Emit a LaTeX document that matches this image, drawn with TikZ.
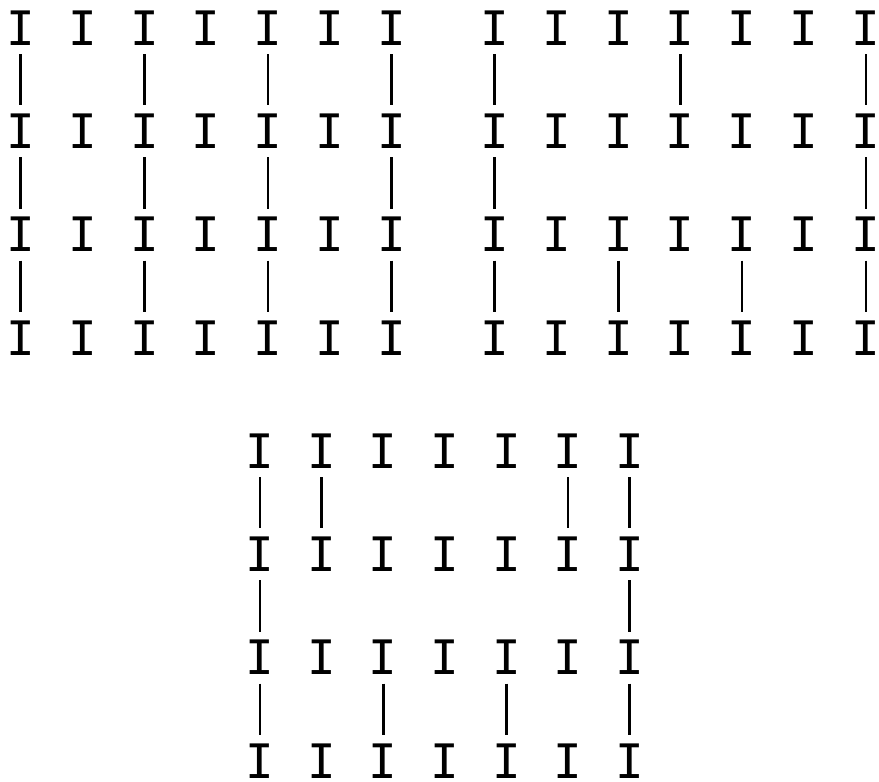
\documentclass[tikz,border=0pt]{standalone}
\usepackage{fontspec}
\newfontfamily\beamfont{DejaVu Sans Mono}
\usetikzlibrary{positioning}

\begin{document}
\begin{tikzpicture}[
    x=1pt, y=-1pt,
    beam/.style={inner sep=0pt, font=\beamfont\fontsize{47.5}{47.5}\selectfont, text height=34.6pt, text depth=0pt},
    bar/.style={line width=2.6pt, shorten >=8.5pt, shorten <=8.5pt},
  ]
  \useasboundingbox (0,0) rectangle (879,782);

  % three blocks of beams
  \foreach \r in {1,...,4}
    \foreach \c in {1,...,7} {
      \node[beam] (a\r\c) at ({20.7+61.8*(\c-1)},{28+103.3*(\r-1)}) {I};
      \node[beam] (b\r\c) at ({494.5+61.9*(\c-1)},{28+103.3*(\r-1)}) {I};
      \node[beam] (c\r\c) at ({260+61.6*(\c-1)},{451+103.3*(\r-1)}) {I};
    }

  % left block
  \foreach \r/\s in {1/2, 2/3, 3/4}
    \foreach \c in {1,3,5,7}
      \draw[bar] (a\r\c) -- (a\s\c);

  % right block
  \foreach \c in {1,4,7} \draw[bar] (b1\c) -- (b2\c);
  \foreach \c in {1,7} \draw[bar] (b2\c) -- (b3\c);
  \foreach \c in {1,3,5,7} \draw[bar] (b3\c) -- (b4\c);

  % lower block
  \foreach \c in {1,2,6,7} \draw[bar] (c1\c) -- (c2\c);
  \foreach \c in {1,7} \draw[bar] (c2\c) -- (c3\c);
  \foreach \c in {1,3,5,7} \draw[bar] (c3\c) -- (c4\c);
\end{tikzpicture}
\end{document}
